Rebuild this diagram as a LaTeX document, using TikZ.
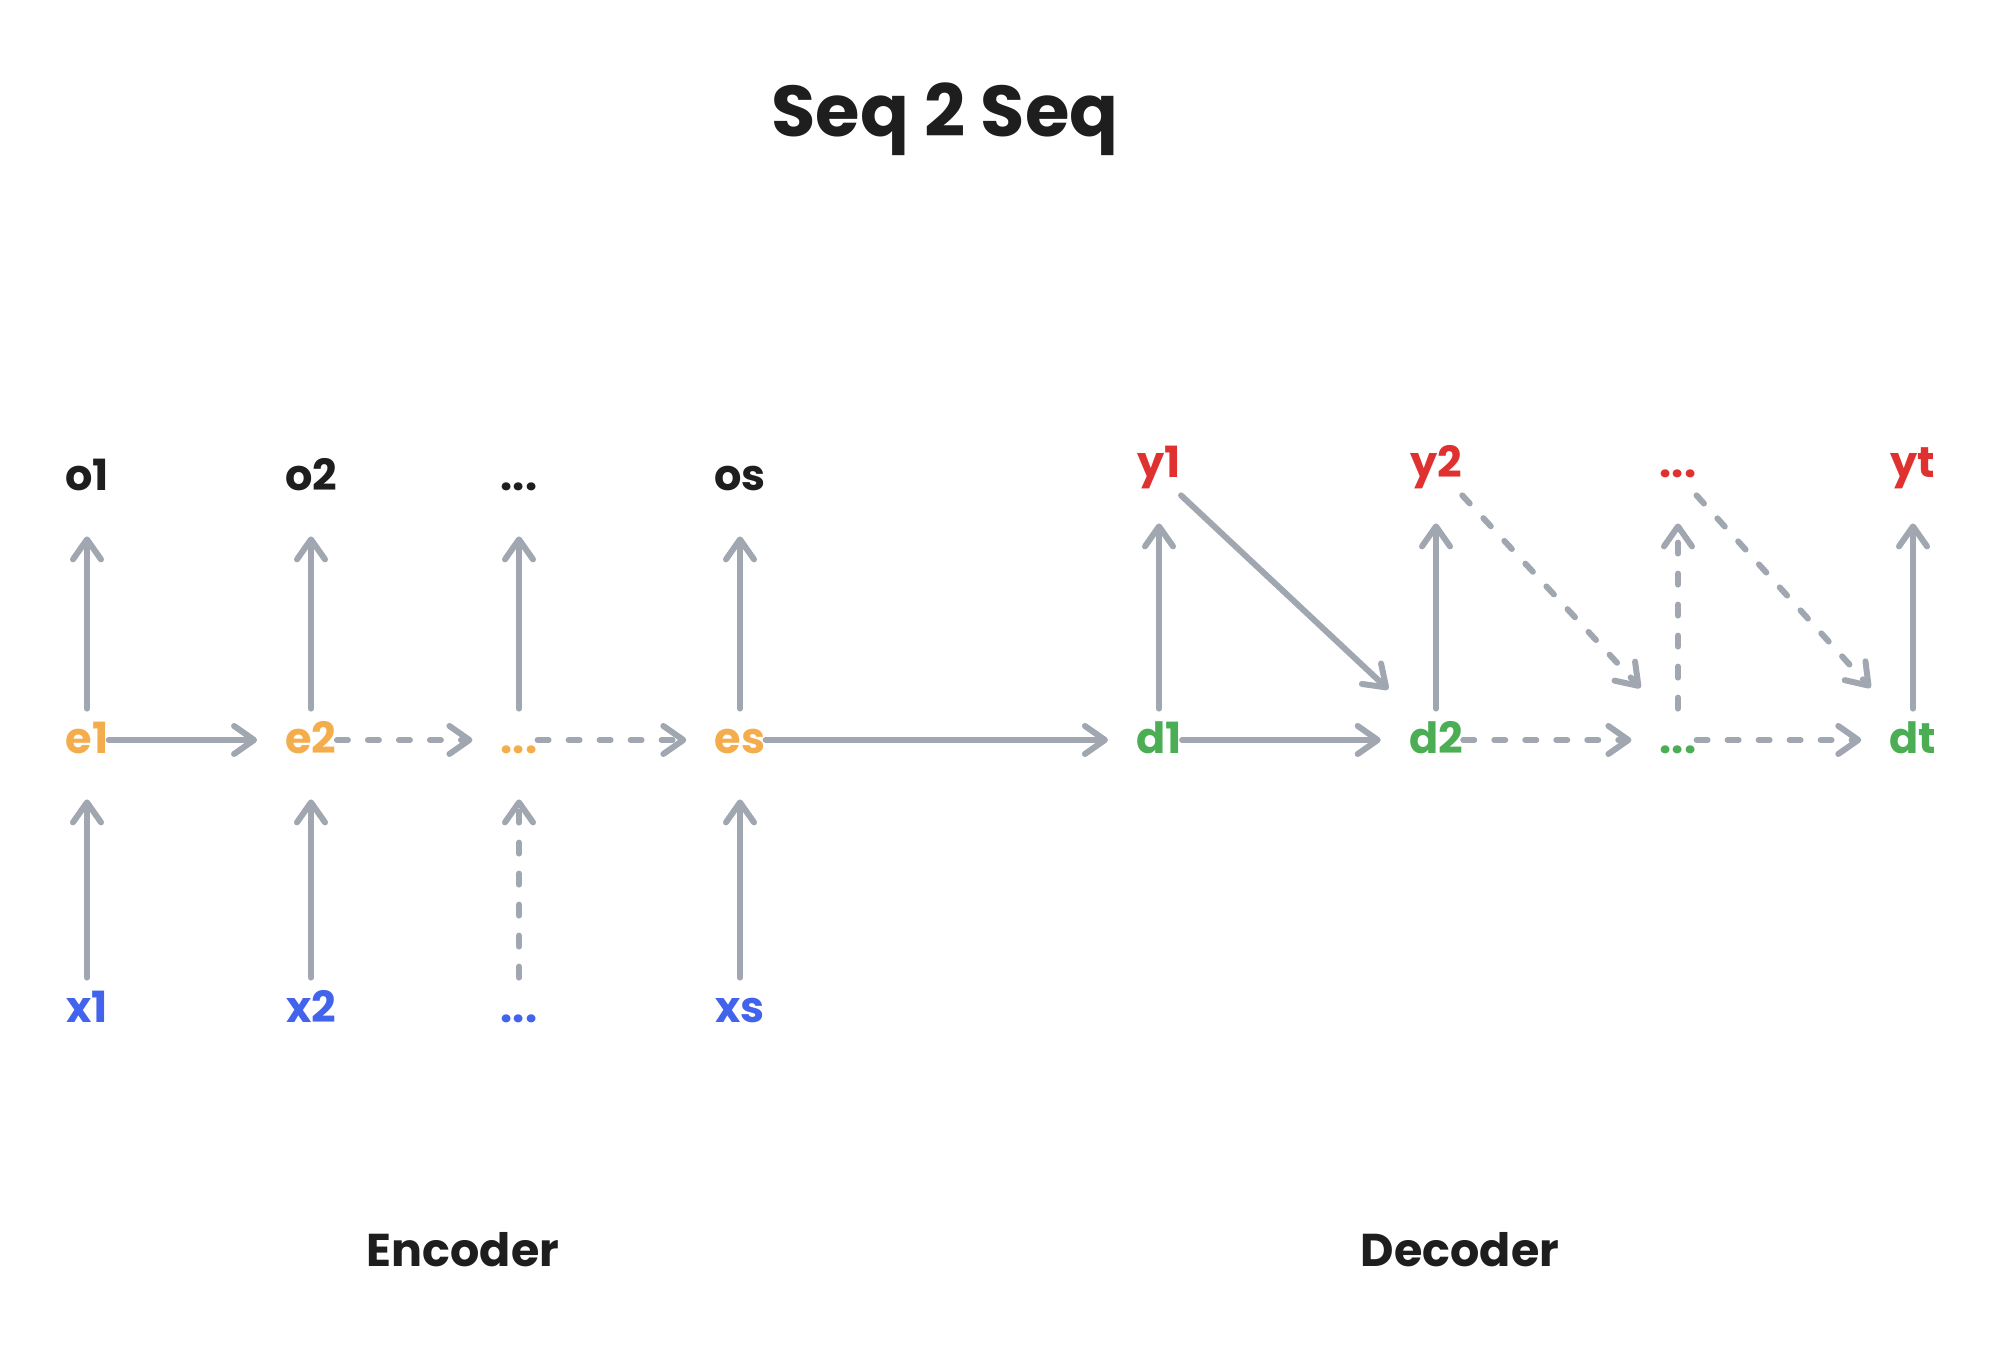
\documentclass[tikz,border=0pt]{standalone}
\usepackage{fontspec}
\setmainfont{Poppins}
\usetikzlibrary{arrows.meta}

\definecolor{wire}{HTML}{A0A7B1}
\definecolor{ink}{HTML}{1E1E1E}
\definecolor{enccol}{HTML}{F4AD4C}
\definecolor{deccol}{HTML}{4CAE54}
\definecolor{incol}{HTML}{4263EB}
\definecolor{outcol}{HTML}{E03131}

\begin{document}
\begin{tikzpicture}[x=0.5pt, y=0.5pt,
    lbl/.style={inner xsep=0pt, inner ysep=8.5pt, text height=14pt, text depth=0pt,
        font=\fontsize{21.5}{26}\selectfont\bfseries},
    flow/.style={draw=wire, line width=3pt, line cap=round,
        -{Straight Barb[length=10pt, width=14pt, round]}, shorten >=14pt},
    loose/.style={flow, dash pattern=on 5.5pt off 10pt}]
    \useasboundingbox (0,0) rectangle (2010,1348);

    % heading and captions
    \node[ink, font=\fontsize{36}{42}\selectfont\bfseries] (title) at (945,1229) {Seq 2 Seq};
    \node[ink, font=\fontsize{23}{28}\selectfont\bfseries] (enc) at (463,98) {Encoder};
    \node[ink, font=\fontsize{23}{28}\selectfont\bfseries] (dec) at (1460,98) {Decoder};

    % encoder
    \node[lbl, ink] (o1) at (87,871) {o1};
    \node[lbl, ink] (o2) at (311,871) {o2};
    \node[lbl, ink] (od) at (519,871) {...};
    \node[lbl, ink] (os) at (740,871) {os};

    \node[lbl, enccol] (e1) at (87,608) {e1};
    \node[lbl, enccol] (e2) at (311,608) {e2};
    \node[lbl, enccol] (ed) at (519,608) {...};
    \node[lbl, enccol] (es) at (740,608) {es};

    \node[lbl, incol] (x1) at (87,339) {x1};
    \node[lbl, incol] (x2) at (311,339) {x2};
    \node[lbl, incol] (xd) at (519,339) {...};
    \node[lbl, incol] (xs) at (740,339) {xs};

    % decoder
    \node[lbl, deccol] (d1) at (1159,608) {d1};
    \node[lbl, deccol] (d2) at (1436,608) {d2};
    \node[lbl, deccol] (dd) at (1678,608) {...};
    \node[lbl, deccol] (dt) at (1913,608) {dt};

    \node[lbl, outcol] (y1) at (1159,884) {y1};
    \node[lbl, outcol] (y2) at (1436,884) {y2};
    \node[lbl, outcol] (yd) at (1678,884) {...};
    \node[lbl, outcol] (yt) at (1913,884) {yt};

    % inputs and outputs
    \draw[flow] (x1) -- (e1);
    \draw[flow] (x2) -- (e2);
    \draw[loose] (xd) -- (ed);
    \draw[flow] (xs) -- (es);
    \draw[flow] (e1) -- (o1);
    \draw[flow] (e2) -- (o2);
    \draw[flow] (ed) -- (od);
    \draw[flow] (es) -- (os);

    % recurrence
    \draw[flow] (e1.east) -- (e2.west);
    \draw[loose] (e2.east) -- (ed.west);
    \draw[loose] (ed.east) -- (es.west);
    \draw[flow] (es.east) -- (d1.west);
    \draw[flow] (d1.east) -- (d2.west);
    \draw[loose] (d2.east) -- (dd.west);
    \draw[loose] (dd.east) -- (dt.west);

    \draw[flow] (d1) -- (y1);
    \draw[flow] (d2) -- (y2);
    \draw[loose] (dd) -- (yd);
    \draw[flow] (dt) -- (yt);

    % feedback
    \draw[flow] (y1.south east) -- (d2.north west);
    \draw[loose] (y2.south east) -- (dd.north west);
    \draw[loose] (yd.south east) -- (dt.north west);
\end{tikzpicture}
\end{document}
